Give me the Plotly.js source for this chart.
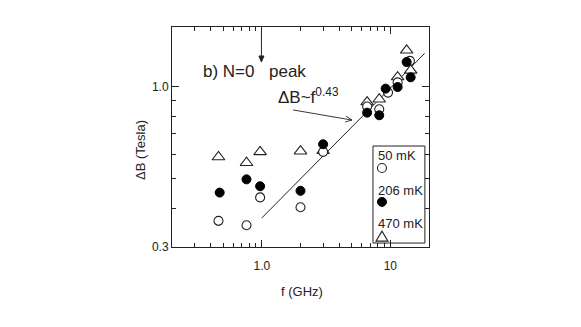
<!DOCTYPE html>
<html>
<head>
<meta charset="utf-8">
<script src="https://cdn.plot.ly/plotly-3.0.1.min.js"></script>
<style>
  html, body { margin: 0; padding: 0; background: #fff; }
  #gd { width: 581px; height: 327px; }
</style>
</head>
<body>
<div id="gd"></div>
<script>
// frequencies (GHz) and peak widths (Tesla)
var f50 = [0.46, 0.76, 0.97, 2.0, 3.0, 6.6, 8.2, 9.6, 11.4, 14.2];
var dB50 = [0.365, 0.353, 0.435, 0.404, 0.612, 0.86, 0.842, 0.954, 1.03, 1.21];

var f206 = [0.47, 0.76, 0.97, 2.0, 3.0, 6.6, 8.2, 9.2, 11.4, 13.4, 14.4];
var dB206 = [0.451, 0.498, 0.473, 0.457, 0.648, 0.821, 0.805, 0.983, 0.995, 1.2, 1.07];

var f470 = [0.46, 0.76, 0.97, 2.0, 3.0, 6.6, 8.2, 11.4, 13.4, 14.4];
var dB470 = [0.589, 0.564, 0.612, 0.615, 0.617, 0.889, 0.908, 1.072, 1.31, 1.127];

// power law guide line dB ~ f^0.43
var fitF = [1.0, 18.5];
var fitB = [0.373, 1.28];

var xTicks = [1, 10];
var xTickText = ["1.0", "10"];
var xMinor = [0.3, 0.4, 0.5, 0.6, 0.7, 0.8, 0.9, 2, 3, 4, 5, 6, 7, 8, 9];
var yTicks = [0.3, 1];
var yTickText = ["0.3", "1.0"];
var yMinor = [0.4, 0.5, 0.6, 0.7, 0.8, 0.9];

var ink = "#222";
var font = "Liberation Sans, Arial, sans-serif";

var traces = [
  {
    type: "scatter", mode: "lines",
    x: fitF, y: fitB,
    line: {color: ink, width: 1},
    hoverinfo: "skip"
  },
  {
    type: "scatter", mode: "markers", name: "470 mK",
    x: f470, y: dB470,
    marker: {symbol: "triangle-up", size: 11, color: "#fff", line: {color: ink, width: 1.1}}
  },
  {
    type: "scatter", mode: "markers", name: "50 mK",
    x: f50, y: dB50,
    marker: {symbol: "circle", size: 9, color: "#fff", line: {color: ink, width: 1.1}}
  },
  {
    type: "scatter", mode: "markers", name: "206 mK",
    x: f206, y: dB206,
    marker: {symbol: "circle", size: 9, color: "#000", line: {color: "#000", width: 1}}
  }
];

function axisBase() {
  return {
    type: "log",
    tickmode: "array",
    ticks: "inside",
    ticklen: 7,
    tickwidth: 1,
    tickcolor: ink,
    showline: true,
    linecolor: ink,
    linewidth: 1,
    mirror: "allticks",
    showgrid: false,
    zeroline: false,
    tickfont: {family: font, size: 12, color: ink}
  };
}

var xaxis = axisBase();
xaxis.range = [Math.log10(0.2), Math.log10(20)];
xaxis.tickvals = xTicks;
xaxis.ticktext = xTickText;
xaxis.ticklabelstandoff = 8;
xaxis.minor = {tickmode: "array", tickvals: xMinor, ticks: "inside", ticklen: 4, tickcolor: ink, showgrid: false};

var yaxis = axisBase();
yaxis.range = [Math.log10(0.3), Math.log10(1.56)];
yaxis.tickvals = yTicks;
yaxis.ticktext = yTickText;
yaxis.minor = {tickmode: "array", tickvals: yMinor, ticks: "inside", ticklen: 4, tickcolor: ink, showgrid: false};

// legend box, drawn by hand: label above its symbol
var legX = 0.794, symX = 0.817;
function pix(anchorX, anchorY, extra) {
  var s = {xref: "paper", yref: "paper", xsizemode: "pixel", ysizemode: "pixel",
           xanchor: anchorX, yanchor: anchorY};
  for (var k in extra) s[k] = extra[k];
  return s;
}
var shapes = [
  {type: "rect", xref: "paper", yref: "paper", x0: 0.782, x1: 0.984, y0: 0.018, y1: 0.459,
   line: {color: ink, width: 1}, fillcolor: "rgba(0,0,0,0)"},
  pix(symX, 0.359, {type: "circle", x0: -4.5, x1: 4.5, y0: -4.5, y1: 4.5,
   line: {color: ink, width: 1.1}}),
  pix(symX, 0.205, {type: "circle", x0: -4.5, x1: 4.5, y0: -4.5, y1: 4.5,
   line: {color: "#000", width: 1}, fillcolor: "#000"}),
  pix(symX, 0.045, {type: "path", path: "M -6 -4 L 6 -4 L 0 6 Z",
   line: {color: ink, width: 1.1}}),
  // arrow marking the N=0 peak position
  {type: "line", xref: "paper", yref: "paper", x0: 0.348, x1: 0.348, y0: 0.975, y1: 0.845,
   line: {color: ink, width: 1}},
  pix(0.348, 0.841, {type: "path", path: "M -2.5 6 L 2.5 6 L 0 0 Z",
   line: {color: ink, width: 1}, fillcolor: ink}),
  // arrow from the power law label to the line
  {type: "line", xref: "paper", yref: "paper", x0: 0.471, y0: 0.623, x1: 0.700, y1: 0.577,
   line: {color: ink, width: 0.9}},
  pix(0.700, 0.577, {type: "path", path: "M -6.7 -1.9 L 0 0 L -5.8 4.0",
   line: {color: ink, width: 0.9}})
];

function txt(s, x, y, size, extra) {
  var a = {text: s, xref: "paper", yref: "paper", x: x, y: y, showarrow: false,
           xanchor: "left", yanchor: "middle", font: {family: font, size: size, color: ink}};
  for (var k in extra) a[k] = extra[k];
  return a;
}

var annotations = [
  txt("50 mK", legX, 0.418, 13),
  txt("206 mK", legX, 0.259, 13),
  txt("470 mK", legX, 0.109, 13),
  txt("b) N=0", 0.113, 0.80, 17),
  txt("peak", 0.370, 0.80, 17),
  txt("ΔB~f<sup>0.43</sup>", 0.403, 0.685, 17),
  txt("ΔB (Tesla)", -0.1206, 0.441, 13, {xanchor: "center", textangle: -90}),
  txt("f (GHz)", 0.506, -0.2045, 13, {xanchor: "center"})
];

var layout = {
  width: 581,
  height: 327,
  showlegend: false,
  margin: {l: 172, r: 152, t: 27, b: 80, pad: 0},
  paper_bgcolor: "#fff",
  plot_bgcolor: "#fff",
  font: {family: font, size: 12, color: ink},
  xaxis: xaxis,
  yaxis: yaxis,
  shapes: shapes,
  annotations: annotations
};

Plotly.newPlot("gd", traces, layout, {staticPlot: true, displayModeBar: false});
</script>
</body>
</html>
